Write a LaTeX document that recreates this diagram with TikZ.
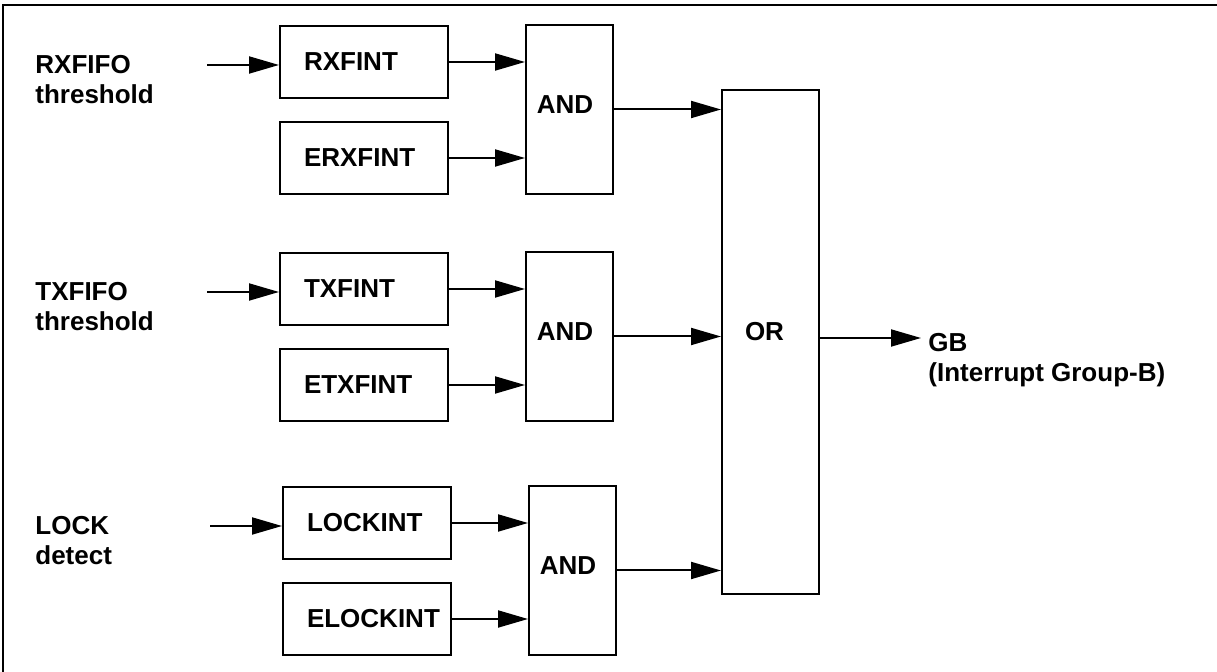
\documentclass[tikz,border=0pt]{standalone}
\usepackage{fontspec}
\setmainfont{Liberation Sans}
\usetikzlibrary{arrows.meta}

\tikzset{
  blk/.style={draw, line width=1pt, minimum width=84pt, minimum height=36pt,
    text width=60pt, inner xsep=12pt, align=left},
  gate/.style={draw, line width=1pt, minimum width=43.5pt, minimum height=84.5pt},
  lbl/.style={draw=none, fill=none, inner sep=0pt, align=left},
  arr/.style={line width=1pt, -{Triangle[length=15pt, width=8.5pt]}}
}

\begin{document}
\begin{tikzpicture}[x=0.5pt, y=-0.5pt, font=\bfseries\fontsize{13}{15}\selectfont]
  \useasboundingbox (0,0) rectangle (1217,672);
  % frame
  \draw[line width=1pt] (3,672) -- (3,5) -- (1217,5);

  % three interrupt sources
  \foreach \nm/\ia/\ib/\sa/\sb/\yt/\dx in {rx/RXFINT/ERXFINT/RXFIFO/threshold/0/0,
      tx/TXFINT/ETXFINT/TXFIFO/threshold/227/0,
      lock/LOCKINT/ELOCKINT/LOCK/detect/461/3} {
    \node[lbl, anchor=base west] (src\nm) at (35,104+\yt) {\sa\\\sb};
    \coordinate (in\nm) at (207+\dx,65+\yt);
    \node[blk] (a\nm) at (364+\dx,62+\yt) {\ia};
    \node[blk] (b\nm) at (364+\dx,158+\yt) {\ib};
    \node[gate] (and\nm) at (569.5+\dx,109.5+\yt) {};
    \node[lbl] (op\nm) at ([xshift=-2.25pt,yshift=2.25pt]and\nm.center) {AND};
    \draw[arr] (in\nm) -- (in\nm -| a\nm.west);
    \draw[arr] (a\nm.east) -- (a\nm.east -| and\nm.west);
    \draw[arr] (b\nm.east) -- (b\nm.east -| and\nm.west);
  }

  % OR gate
  \node[gate, minimum width=48.5pt, minimum height=252pt] (or) at (770.5,342) {};
  \node[lbl] (ortxt) at ([xshift=-3pt,yshift=5pt]or.center) {OR};
  \foreach \nm in {rx,tx,lock}
    \draw[arr] (and\nm.east) -- (and\nm.east -| or.west);

  \coordinate (gbend) at (921,338);
  \draw[arr] (or.east |- gbend) -- (gbend);
  \node[lbl, anchor=base west] (gb) at (928,382) {GB\\(Interrupt Group-B)};
\end{tikzpicture}
\end{document}
